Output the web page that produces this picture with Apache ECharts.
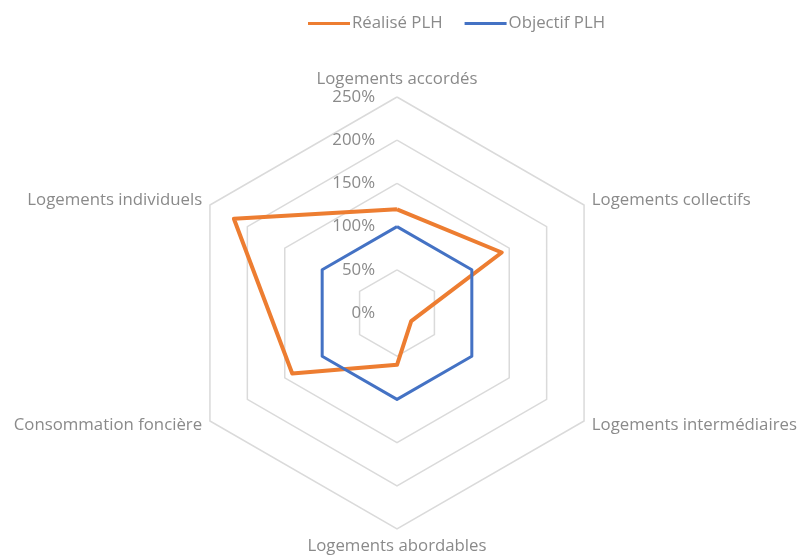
<!DOCTYPE html>
<html>
<head>
<meta charset="utf-8">
<style>
  html, body { margin: 0; padding: 0; background: #ffffff; }
  #chart { width: 798px; height: 559px; }
</style>
<script src="https://cdn.jsdelivr.net/npm/echarts@6/dist/echarts.min.js"></script>
</head>
<body>
<div id="chart"></div>
<script>
// Axes, listed clockwise starting from the top
const categories = [
  'Logements accordés',
  'Logements collectifs',
  'Logements intermédiaires',
  'Logements abordables',
  'Consommation foncière',
  'Logements individuels'
];
// Achievement vs. target, in percent
const realise = [120, 140, 19, 60, 140, 218];
const objectif = [100, 100, 100, 100, 100, 100];
const seriesNames = ['Réalisé PLH', 'Objectif PLH'];
const scaleMax = 250;
const scaleStep = 50;

// ECharts lays radar axes out counter-clockwise; reorder to run clockwise
const order = categories.map((_, i) => (categories.length - i) % categories.length);
const ccw = arr => order.map(i => arr[i]);

const textGrey = '#8a8a8a';
const font = '"Open Sans", "Noto Sans", sans-serif';
const fontSize = 16.8;

const chart = echarts.init(document.getElementById('chart'), null, { renderer: 'canvas' });
chart.setOption({
  backgroundColor: '#ffffff',
  animation: false,
  legend: {
    top: 10,
    left: 303,
    icon: 'rect',
    itemWidth: 42,
    itemHeight: 3,
    itemGap: 22,
    textStyle: { color: textGrey, fontSize: fontSize, fontFamily: font, padding: [0, 0, 0, -3] },
    data: seriesNames
  },
  radar: {
    center: [397, 313],
    radius: 216,
    startAngle: 90,
    shape: 'polygon',
    splitNumber: scaleMax / scaleStep,
    nameGap: 9,
    axisName: { color: textGrey, fontSize: fontSize, fontFamily: font },
    axisLine: { show: false },
    axisTick: { show: false },
    splitArea: { show: false },
    splitLine: { lineStyle: { color: '#dadada', width: 1.5 } },
    axisLabel: {
      show: true,
      color: textGrey,
      fontSize: fontSize,
      fontFamily: font,
      margin: 22,
      formatter: v => v + '%'
    },
    indicator: ccw(categories).map((name, i) => ({
      name: name,
      min: 0,
      max: scaleMax,
      axisLabel: { show: i === 0 }
    }))
  },
  series: [{
    type: 'radar',
    symbol: 'none',
    data: [
      {
        name: seriesNames[0],
        value: ccw(realise),
        lineStyle: { color: '#ED7D31', width: 4 },
        itemStyle: { color: '#ED7D31' }
      },
      {
        name: seriesNames[1],
        value: ccw(objectif),
        lineStyle: { color: '#4472C4', width: 3 },
        itemStyle: { color: '#4472C4' }
      }
    ],
    z: 3
  }]
});
</script>
</body>
</html>
